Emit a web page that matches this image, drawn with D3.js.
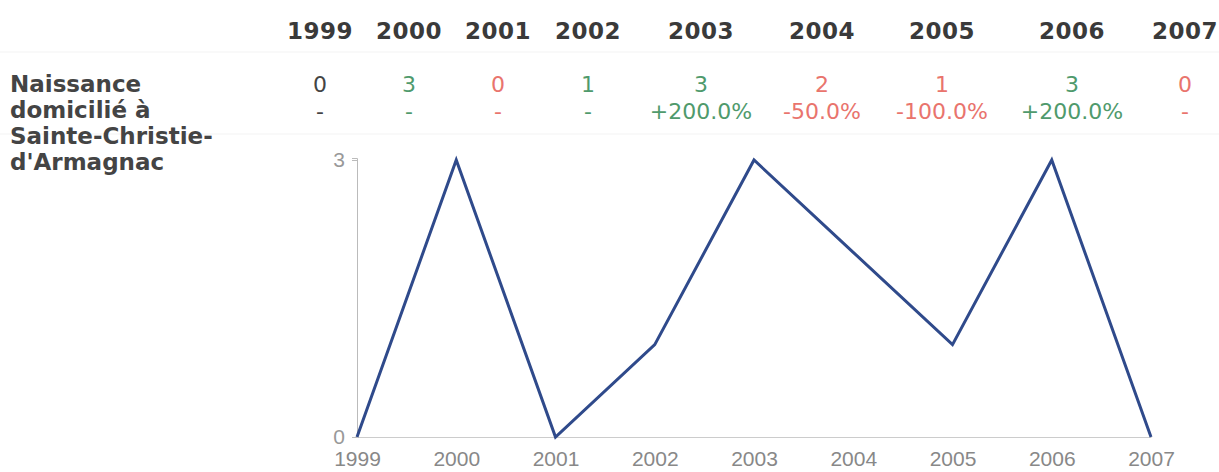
<!DOCTYPE html>
<html>
<head>
<meta charset="utf-8">
<script src="https://cdn.jsdelivr.net/npm/d3@7"></script>
<style>
  body { margin: 0; background: #fff; }
</style>
</head>
<body>
<div id="chart"></div>
<script>
// data
const years = ["1999", "2000", "2001", "2002", "2003", "2004", "2005", "2006", "2007"];
const births = [0, 3, 0, 1, 3, 2, 1, 3, 0];
const changes = ["-", "-", "-", "-", "+200.0%", "-50.0%", "-100.0%", "+200.0%", "-"];
const rowLabel = ["Naissance", "domicilié à", "Sainte-Christie-", "d'Armagnac"];
const yTicks = [0, 3];

const width = 1219;
const height = 472;

// table column centres (the html table had uneven column widths)
const colX = d3.scaleOrdinal()
    .domain(years)
    .range([320, 409, 498, 588, 701, 822, 942, 1072, 1185]);

const green = "#4f9a6c";
const red = "#e9746d";

const svg = d3.select("#chart")
    .append("svg")
    .attr("width", width)
    .attr("height", height);

// faint table rules
svg.selectAll(".rule")
    .data([52, 134])
    .enter().append("line")
    .attr("x1", 0).attr("x2", width)
    .attr("y1", d => d).attr("y2", d => d)
    .attr("stroke", "#f3f3f3");

// header row
svg.selectAll(".year")
    .data(years)
    .enter().append("text")
    .attr("x", d => colX(d))
    .attr("y", 39)
    .attr("text-anchor", "middle")
    .style("font-family", "DejaVu Sans")
    .style("font-weight", "bold")
    .style("font-size", "23px")
    .style("letter-spacing", "0.5px")
    .attr("fill", "#3a3a3a")
    .text(d => d);

// row label
svg.selectAll(".lbl")
    .data(rowLabel)
    .enter().append("text")
    .attr("x", 10)
    .attr("y", (d, i) => 92 + i * 26)
    .style("font-family", "DejaVu Sans")
    .style("font-weight", "bold")
    .style("font-size", "23px")
    .attr("fill", "#444")
    .text(d => d);

// colour by direction vs previous year
const col = (i) => i === 0 ? "#444" : (births[i] > births[i - 1] ? green : red);

svg.selectAll(".val")
    .data(births)
    .enter().append("text")
    .attr("x", (d, i) => colX(years[i]))
    .attr("y", 92)
    .attr("text-anchor", "middle")
    .style("font-family", "DejaVu Sans")
    .style("font-size", "22px")
    .attr("fill", (d, i) => col(i))
    .text(d => d);

svg.selectAll(".chg")
    .data(changes)
    .enter().append("text")
    .attr("x", (d, i) => colX(years[i]))
    .attr("y", 119)
    .attr("text-anchor", "middle")
    .style("font-family", "DejaVu Sans")
    .style("font-size", "22px")
    .attr("fill", (d, i) => col(i))
    .text(d => d);

// line chart
const x = d3.scalePoint()
    .domain(years)
    .range([357, 1151]);

const y = d3.scaleLinear()
    .domain([0, 3])
    .range([437, 160]);

const yAxis = svg.append("g")
    .attr("transform", "translate(357,0)")
    .call(d3.axisLeft(y).tickValues(yTicks).tickSize(5).tickFormat(d3.format("d")));
yAxis.select(".domain").attr("stroke", "#bbb").attr("d", "M-5,158.5H0.5V437.5");
yAxis.selectAll(".tick line").attr("stroke", "#bbb");
yAxis.selectAll(".tick text")
    .attr("x", -12)
    .attr("fill", "#999")
    .style("font-family", "Liberation Sans")
    .style("font-size", "21px");

const xAxis = svg.append("g")
    .attr("transform", "translate(0,437)")
    .call(d3.axisBottom(x).tickSize(0));
xAxis.select(".domain").attr("stroke", "#ccc");
xAxis.selectAll(".tick text")
    .attr("dy", "0")
    .attr("y", 29)
    .attr("fill", "#888")
    .style("font-family", "Liberation Sans")
    .style("font-size", "21px");

svg.append("path")
    .datum(births)
    .attr("fill", "none")
    .attr("stroke", "#2f4a8b")
    .attr("stroke-width", 3)
    .attr("stroke-linejoin", "miter")
    .attr("d", d3.line()
        .x((d, i) => x(years[i]))
        .y(d => y(d))
    );
</script>
</body>
</html>
